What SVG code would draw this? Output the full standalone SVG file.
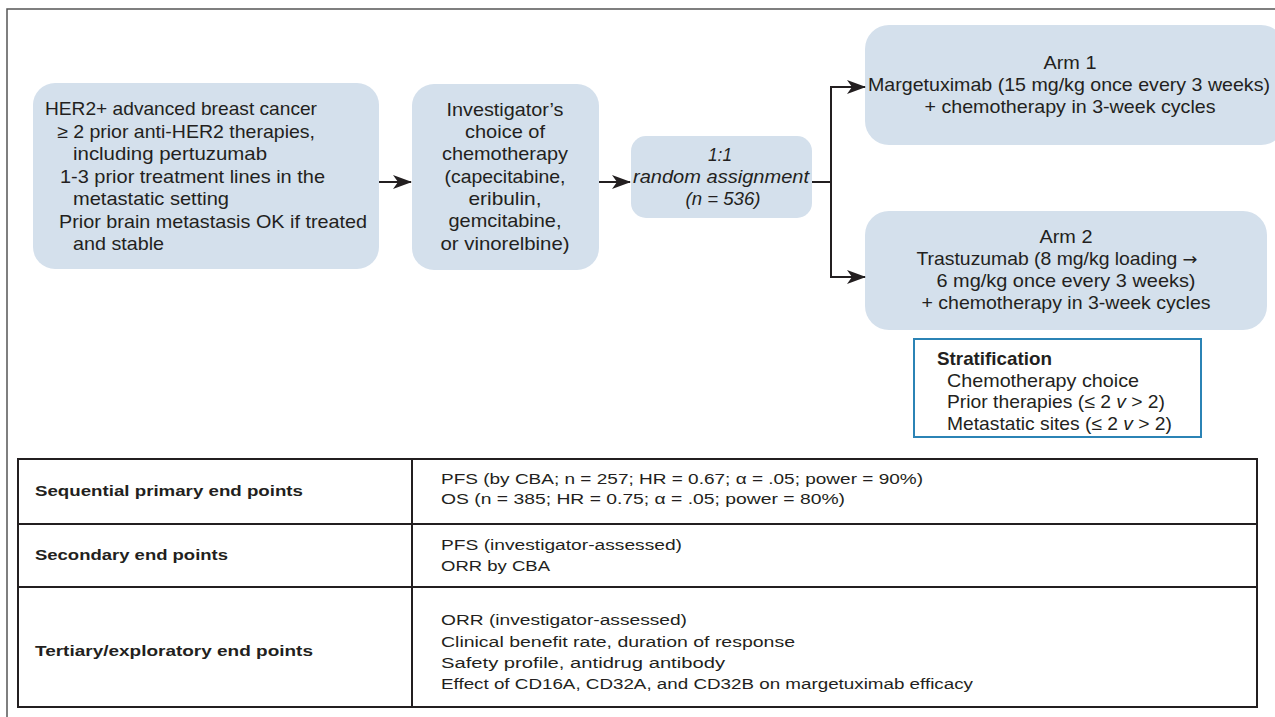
<svg xmlns="http://www.w3.org/2000/svg" width="1275" height="717" viewBox="0 0 1275 717">
<defs>
<style>
.t{font-family:"Liberation Sans",Arial,sans-serif;font-size:18.5px;fill:#231f20}
.c{text-anchor:middle}
.i{font-style:italic}
.tb{font-family:"Liberation Sans",Arial,sans-serif;font-size:15.5px;fill:#231f20}
.b{font-weight:bold}
.box{fill:#d4e0ec;stroke:none}
.conn{fill:none;stroke:#231f20;stroke-width:2}
.grid{fill:none;stroke:#231f20;stroke-width:2}
</style>
<marker id="ah" markerUnits="userSpaceOnUse" markerWidth="19" markerHeight="16" refX="18" refY="8" orient="auto" viewBox="0 0 19 16">
<path d="M0,1 L19,8 L0,15 L5,8 Z" fill="#231f20"/>
</marker>
</defs>
<rect width="1275" height="717" fill="#ffffff"/>
<rect x="7" y="9" width="1320" height="800" fill="none" stroke="#555555" stroke-width="1.5"/>

<g id="eligibility">
<rect class="box" x="33" y="83" width="346" height="186" rx="22"/>
<text class="t" x="45" y="115" textLength="272" lengthAdjust="spacingAndGlyphs">HER2+ advanced breast cancer</text>
<text class="t" x="57" y="138" textLength="258" lengthAdjust="spacingAndGlyphs">≥ 2 prior anti-HER2 therapies,</text>
<text class="t" x="73" y="160" textLength="194" lengthAdjust="spacingAndGlyphs">including pertuzumab</text>
<text class="t" x="60" y="183" textLength="265" lengthAdjust="spacingAndGlyphs">1-3 prior treatment lines in the</text>
<text class="t" x="73" y="205" textLength="156" lengthAdjust="spacingAndGlyphs">metastatic setting</text>
<text class="t" x="59" y="228" textLength="308" lengthAdjust="spacingAndGlyphs">Prior brain metastasis OK if treated</text>
<text class="t" x="73" y="250" textLength="91" lengthAdjust="spacingAndGlyphs">and stable</text>
</g>

<g id="chemo">
<rect class="box" x="412" y="84" width="187" height="186" rx="22"/>
<text class="t c" x="505" y="116" textLength="117" lengthAdjust="spacingAndGlyphs">Investigator’s</text>
<text class="t c" x="505" y="138" textLength="80" lengthAdjust="spacingAndGlyphs">choice of</text>
<text class="t c" x="505" y="160" textLength="126" lengthAdjust="spacingAndGlyphs">chemotherapy</text>
<text class="t c" x="505" y="183" textLength="121" lengthAdjust="spacingAndGlyphs">(capecitabine,</text>
<text class="t c" x="505" y="205" textLength="73" lengthAdjust="spacingAndGlyphs">eribulin,</text>
<text class="t c" x="505" y="227" textLength="113" lengthAdjust="spacingAndGlyphs">gemcitabine,</text>
<text class="t c" x="505" y="250" textLength="129" lengthAdjust="spacingAndGlyphs">or vinorelbine)</text>
</g>

<g id="random">
<rect class="box" x="631" y="136" width="181" height="82" rx="15"/>
<text class="t c i" x="720" y="161" textLength="24" lengthAdjust="spacingAndGlyphs">1:1</text>
<text class="t c i" x="721" y="183" textLength="176" lengthAdjust="spacingAndGlyphs">random assignment</text>
<text class="t c i" x="723" y="205" textLength="75" lengthAdjust="spacingAndGlyphs">(n = 536)</text>
</g>

<g id="arm1">
<rect class="box" x="865" y="25" width="420" height="120" rx="24"/>
<text class="t c" x="1070" y="69" textLength="53" lengthAdjust="spacingAndGlyphs">Arm 1</text>
<text class="t c" x="1069" y="91" textLength="402" lengthAdjust="spacingAndGlyphs">Margetuximab (15 mg/kg once every 3 weeks)</text>
<text class="t c" x="1070" y="113" textLength="291" lengthAdjust="spacingAndGlyphs">+ chemotherapy in 3-week cycles</text>
</g>

<g id="arm2">
<rect class="box" x="865" y="211" width="402" height="119" rx="24"/>
<text class="t c" x="1066" y="243" textLength="53" lengthAdjust="spacingAndGlyphs">Arm 2</text>
<text class="t c" x="1057" y="265" textLength="281" lengthAdjust="spacingAndGlyphs">Trastuzumab (8 mg/kg loading <tspan font-family="'DejaVu Sans',sans-serif" font-size="17">→</tspan></text>
<text class="t c" x="1066" y="287" textLength="259" lengthAdjust="spacingAndGlyphs">6 mg/kg once every 3 weeks)</text>
<text class="t c" x="1066" y="309" textLength="289" lengthAdjust="spacingAndGlyphs">+ chemotherapy in 3-week cycles</text>
</g>

<g id="stratification">
<rect x="914" y="339" width="287" height="98" fill="#ffffff" stroke="#2b83b5" stroke-width="2"/>
<text class="t b" x="937" y="365" font-size="17" textLength="115" lengthAdjust="spacingAndGlyphs">Stratification</text>
<text class="t" x="947" y="387" font-size="17" textLength="192" lengthAdjust="spacingAndGlyphs">Chemotherapy choice</text>
<text class="t" x="947" y="408" font-size="17" textLength="218" lengthAdjust="spacingAndGlyphs">Prior therapies (≤ 2 <tspan font-style="italic">v</tspan> &gt; 2)</text>
<text class="t" x="947" y="430" font-size="17" textLength="225" lengthAdjust="spacingAndGlyphs">Metastatic sites (≤ 2 <tspan font-style="italic">v</tspan> &gt; 2)</text>
</g>

<g id="connectors">
<path class="conn" d="M379,182 H411" marker-end="url(#ah)"/>
<path class="conn" d="M599,182 H630" marker-end="url(#ah)"/>
<path class="conn" d="M812,182 H831"/>
<path class="conn" d="M831,86 V278"/>
<path class="conn" d="M830,87 H865" marker-end="url(#ah)"/>
<path class="conn" d="M830,277 H865" marker-end="url(#ah)"/>
</g>

<g id="endpoints-table">
<rect class="grid" x="18" y="459" width="1239" height="248"/>
<path class="grid" d="M412,459 V707 M18,524 H1257 M18,587 H1257"/>
<text class="tb b" x="35" y="496" textLength="268" lengthAdjust="spacingAndGlyphs">Sequential primary end points</text>
<text class="tb b" x="35" y="560" textLength="193" lengthAdjust="spacingAndGlyphs">Secondary end points</text>
<text class="tb b" x="35" y="656" textLength="278" lengthAdjust="spacingAndGlyphs">Tertiary/exploratory end points</text>
<text class="tb" x="441" y="484" textLength="482" lengthAdjust="spacingAndGlyphs">PFS (by CBA; n = 257; HR = 0.67; α = .05; power = 90%)</text>
<text class="tb" x="441" y="504" textLength="404" lengthAdjust="spacingAndGlyphs">OS (n = 385; HR = 0.75; α = .05; power = 80%)</text>
<text class="tb" x="441" y="550" textLength="241" lengthAdjust="spacingAndGlyphs">PFS (investigator-assessed)</text>
<text class="tb" x="441" y="571" textLength="109" lengthAdjust="spacingAndGlyphs">ORR by CBA</text>
<text class="tb" x="441" y="625" textLength="246" lengthAdjust="spacingAndGlyphs">ORR (investigator-assessed)</text>
<text class="tb" x="441" y="647" textLength="354" lengthAdjust="spacingAndGlyphs">Clinical benefit rate, duration of response</text>
<text class="tb" x="441" y="668" textLength="284" lengthAdjust="spacingAndGlyphs">Safety profile, antidrug antibody</text>
<text class="tb" x="441" y="689" textLength="532" lengthAdjust="spacingAndGlyphs">Effect of CD16A, CD32A, and CD32B on margetuximab efficacy</text>
</g>
</svg>
